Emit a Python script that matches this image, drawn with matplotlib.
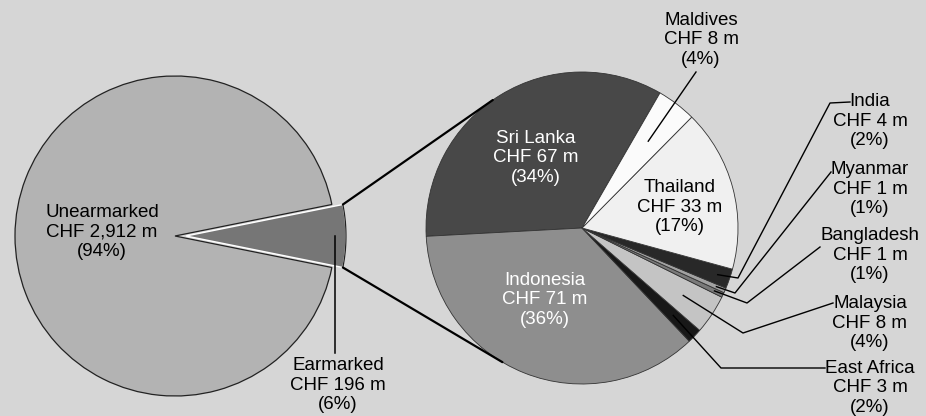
import numpy as np
import matplotlib
matplotlib.use("Agg")
import matplotlib.pyplot as plt

plt.rcParams['font.family'] = ['Liberation Sans', 'DejaVu Sans']

W, H = 926, 416

# --- data -------------------------------------------------------------
total_labels = ["Unearmarked", "Earmarked"]
total_values = [2912, 196]
total_pcts = [94, 6]

country_labels = ["Sri Lanka", "Indonesia", "East Africa", "Malaysia",
                  "Bangladesh", "Myanmar", "India", "Thailand", "Maldives"]
country_values = [67, 71, 3, 8, 1, 1, 4, 33, 8]
country_pcts = [34, 36, 2, 4, 1, 1, 2, 17, 4]

# --- styling ----------------------------------------------------------
bg = '#d6d6d6'
total_colors = ['#b3b3b3', '#767676']
country_colors = ['#484848', '#8e8e8e', '#181818', '#c4c4c4',
                  '#7a7a7a', '#a2a2a2', '#282828', '#f0f0f0', '#fbfbfb']

left_c, left_r = (175, H - 236), 160
right_c, right_r = (582, H - 228), 156


def py(y):
    return H - y


def label_text(name, val, pct):
    return f"{name}\nCHF {val:,} m\n({pct}%)"


fig = plt.figure(figsize=(W / 100, H / 100), dpi=100, facecolor=bg)
ax = fig.add_axes([0, 0, 1, 1])
ax.set_facecolor(bg)

# left pie: earmarked wedge centred on 0 deg and pulled out a little
share = total_values[1] / sum(total_values)
wl, _ = ax.pie(total_values, center=left_c, radius=left_r,
               startangle=180 * share, colors=total_colors,
               explode=[0, 11], counterclock=True,
               wedgeprops=dict(linewidth=0.9, edgecolor='#222222'))
wl[1].set_edgecolor('white')
wl[1].set_linewidth(1.0)
# dark arc on the pulled-out wedge
ew = wl[1]
t = np.radians(np.linspace(ew.theta1, ew.theta2, 30))
ax.plot(ew.center[0] + ew.r * np.cos(t), ew.center[1] + ew.r * np.sin(t),
        color='#222222', lw=0.9, zorder=2)

# right pie
wr, _ = ax.pie(country_values, center=right_c, radius=right_r,
               startangle=60, colors=country_colors, counterclock=True,
               wedgeprops=dict(linewidth=0.6, edgecolor='#333333'))

ax.set_xlim(0, W)
ax.set_ylim(0, H)
ax.set_aspect('equal')
ax.axis('off')

# connector lines: from earmarked wedge corners, tangent to right pie
ec = np.array(ew.center)
C = np.array(right_c)
for ang, side in [(ew.theta2, 1), (ew.theta1, -1)]:
    P = ec + ew.r * np.array([np.cos(np.radians(ang)), np.sin(np.radians(ang))])
    d = np.linalg.norm(P - C)
    phi = np.arctan2(*(P - C)[::-1])
    a = np.arccos(right_r / d)
    pts = [C + right_r * np.array([np.cos(th), np.sin(th)]) for th in (phi + a, phi - a)]
    T = max(pts, key=lambda p: side * p[1])
    ax.plot([P[0], T[0]], [P[1], T[1]], color='black', lw=1.6,
            solid_capstyle='round', zorder=3)


def anchor(w, frac):
    mid = np.radians((w.theta1 + w.theta2) / 2)
    cx, cy = w.center
    return (cx + frac * w.r * np.cos(mid), cy + frac * w.r * np.sin(mid))


fs = 13.5
ls = 1.2
# left labels
ax.text(102, py(232), label_text(total_labels[0], total_values[0], total_pcts[0]),
        ha='center', va='center', fontsize=fs, linespacing=ls)
ax.text(338, py(385), label_text(total_labels[1], total_values[1], total_pcts[1]),
        ha='center', va='center', fontsize=fs, linespacing=ls)
a = anchor(ew, 0.93)
ax.plot([a[0], a[0]], [a[1], py(353)], color='black', lw=1.1, zorder=3)

# inner labels on the right pie
inner = {"Sri Lanka": ((536, 158), 'white'),
         "Indonesia": ((545, 300), 'white'),
         "Thailand": ((680, 207), 'black')}
# outer labels with leader elbows (pixel layout)
outer = {"Maldives": ((701, 40), 0.70, [(696, 72)]),
         "India": ((870, 121), 0.92, [(738, 278), (830, 103), (850, 102)]),
         "Myanmar": ((870, 189), 0.94, [(735, 293), (831, 172)]),
         "Bangladesh": ((870, 255), 0.94, [(747, 303), (820, 247)]),
         "Malaysia": ((870, 323), 0.78, [(743, 333), (833, 303)]),
         "East Africa": ((870, 388), 0.81, [(721, 368), (825, 368)])}

for name, val, pct, w in zip(country_labels, country_values, country_pcts, wr):
    txt = label_text(name, val, pct)
    if name in inner:
        (x, y), col = inner[name]
        ax.text(x, py(y), txt, ha='center', va='center', fontsize=fs,
                color=col, linespacing=ls)
    else:
        (x, y), frac, elbows = outer[name]
        ax.text(x, py(y), txt, ha='center', va='center', fontsize=fs,
                linespacing=ls)
        a = anchor(w, frac)
        xs = [a[0]] + [e[0] for e in elbows]
        ys = [a[1]] + [py(e[1]) for e in elbows]
        ax.plot(xs, ys, color='black', lw=1.0, zorder=3)

fig.savefig('out.png', dpi=100, facecolor=bg)
